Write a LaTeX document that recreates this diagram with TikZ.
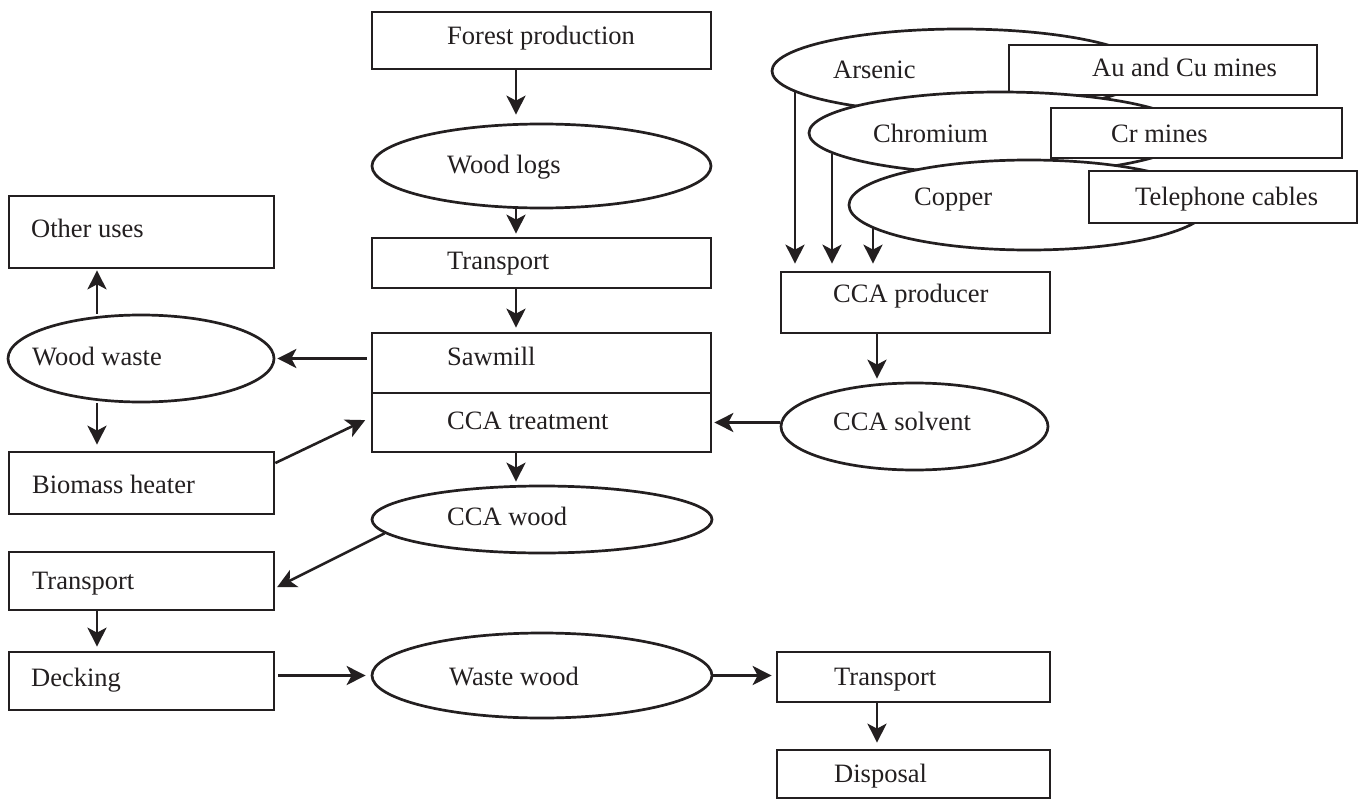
\documentclass[tikz,border=0pt]{standalone}
\usepackage{fontspec}
\setmainfont{Liberation Serif}
\usetikzlibrary{shapes.geometric,arrows.meta,calc}
\definecolor{ink}{RGB}{35,31,32}
\begin{document}
\begin{tikzpicture}[x=1pt,y=-1pt,
  box/.style={draw=ink, line width=2.7pt, fill=white, rectangle, inner sep=0pt},
  oval/.style={draw=ink, line width=2.7pt, fill=white, ellipse, inner sep=0pt},
  txt/.style={anchor=base west, inner sep=0pt, text=ink, font=\fontsize{26.5}{30}\selectfont},
  arr/.style={draw=ink, line width=2.6pt, -{Stealth[length=19pt,width=19pt,inset=5pt]}}]
\useasboundingbox[fill=white] (0,0) rectangle (1360,800);
\coordinate (cm) at (516,0);
\coordinate (cl) at (97,0);
\coordinate (cr) at (877,0);
% middle column
\node[box, minimum width=339pt, minimum height=57pt] (fp) at (541.5,40.5) {};
\node[oval, minimum width=339pt, minimum height=84pt] (wl) at (541.5,166) {};
\node[box, minimum width=339pt, minimum height=50pt] (tr1) at (541.5,263) {};
\node[box, minimum width=339pt, minimum height=60pt] (saw) at (541.5,363) {};
\node[box, minimum width=339pt, minimum height=59pt] (treat) at (541.5,422.5) {};
\node[oval, minimum width=340pt, minimum height=67pt] (ccaw) at (542,519.5) {};
\node[oval, minimum width=340pt, minimum height=85pt] (wwd) at (542,675.5) {};
% left column
\node[box, minimum width=265pt, minimum height=72pt] (ou) at (141.5,232) {};
\node[oval, minimum width=266pt, minimum height=87pt] (ww) at (141,358.5) {};
\node[box, minimum width=265pt, minimum height=62pt] (bh) at (141.5,483) {};
\node[box, minimum width=265pt, minimum height=58pt] (tr2) at (141.5,581) {};
\node[box, minimum width=265pt, minimum height=58pt] (dk) at (141.5,681) {};
% right column
\node[box, minimum width=269pt, minimum height=61pt] (prod) at (915.5,302.5) {};
\node[oval, minimum width=267pt, minimum height=87pt] (solv) at (914.5,426.5) {};
\node[box, minimum width=273pt, minimum height=50pt] (tr3) at (913.5,677) {};
\node[box, minimum width=273pt, minimum height=48pt] (disp) at (913.5,774) {};
% top right cluster
\node[oval, minimum width=376pt, minimum height=84pt] (ars) at (960,71) {};
\node[box, minimum width=308pt, minimum height=50pt] (au) at (1163,70) {};
\node[oval, minimum width=382pt, minimum height=82pt] (chr) at (1000,133) {};
\node[box, minimum width=291pt, minimum height=50pt] (crm) at (1196.5,133) {};
\node[oval, minimum width=360pt, minimum height=90pt] (cop) at (1029,205) {};
\node[box, minimum width=268pt, minimum height=52pt] (tel) at (1223,197) {};
% texts
\node[txt] (tfp) at (447,45) {Forest production};
\node[txt] (twl) at (447,173) {Wood logs};
\node[txt] (ttr1) at (447,269) {Transport};
\node[txt] (tsaw) at (447,365) {Sawmill};
\node[txt] (ttreat) at (447,429) {CCA treatment};
\node[txt] (tccaw) at (447,525) {CCA wood};
\node[txt] (twwd) at (449,685) {Waste wood};
\node[txt] (tou) at (31,237) {Other uses};
\node[txt] (tww) at (32,365) {Wood waste};
\node[txt] (tbh) at (32,493) {Biomass heater};
\node[txt] (ttr2) at (32,589) {Transport};
\node[txt] (tdk) at (31,686) {Decking};
\node[txt] (tprod) at (833,302) {CCA producer};
\node[txt] (tsolv) at (833,430) {CCA solvent};
\node[txt] (ttr3) at (834,685) {Transport};
\node[txt] (tdisp) at (834,782) {Disposal};
\node[txt] (tars) at (833,78) {Arsenic};
\node[txt] (tau) at (1092,77) {Au and Cu mines};
\node[txt] (tchr) at (873,142) {Chromium};
\node[txt] (tcrm) at (1111,142) {Cr mines};
\node[txt] (tcop) at (914,205) {Copper};
\node[txt] (ttel) at (1135,205) {Telephone cables};
% connectors
\draw[arr, shorten >=8pt] (fp.south -| cm) -- (wl.north -| cm);
\draw[arr, shorten >=3pt] (wl.south -| cm) -- (tr1.north -| cm);
\draw[arr, shorten >=4pt] (tr1.south -| cm) -- (saw.north -| cm);
\draw[arr, shorten >=3pt] (treat.south -| cm) -- (ccaw.north -| cm);
\draw[arr, shorten <=4pt, shorten >=2pt] (saw.west |- ww.east) -- (ww.east);
\draw[arr, shorten >=1pt] (ww.north -| cl) -- (ou.south -| cl);
\draw[arr, shorten >=6pt] (ww.south -| cl) -- (bh.north -| cl);
\draw[arr, shorten >=6pt] ([yshift=20pt]bh.east) -- ([yshift=5pt]treat.west);
\draw[arr, shorten >=2pt] (ccaw.185.1) -- ([yshift=-7pt]tr2.east);
\draw[arr, shorten >=4pt] (tr2.south -| cl) -- (dk.north -| cl);
\draw[arr, shorten <=3pt, shorten >=5pt] (dk.east |- wwd.west) -- (wwd.west);
\draw[arr, shorten >=4pt] (wwd.east) -- (tr3.west |- wwd.east);
\draw[arr, shorten >=6pt] (tr3.south -| cr) -- (disp.north -| cr);
\draw[arr, shorten >=3pt] (prod.south -| cr) -- (solv.north -| cr);
\draw[arr, shorten >=2pt] (solv.west |- treat.east) -- (treat.east);
\draw[arr, shorten >=7pt] ($(ars.center)+(-165,20)$) coordinate (a1) -- (a1 |- prod.north);
\draw[arr, shorten >=7pt] ($(chr.center)+(-168,21)$) coordinate (a2) -- (a2 |- prod.north);
\draw[arr, shorten >=7pt] ($(cop.center)+(-156,22)$) coordinate (a3) -- (a3 |- prod.north);
\end{tikzpicture}
\end{document}
